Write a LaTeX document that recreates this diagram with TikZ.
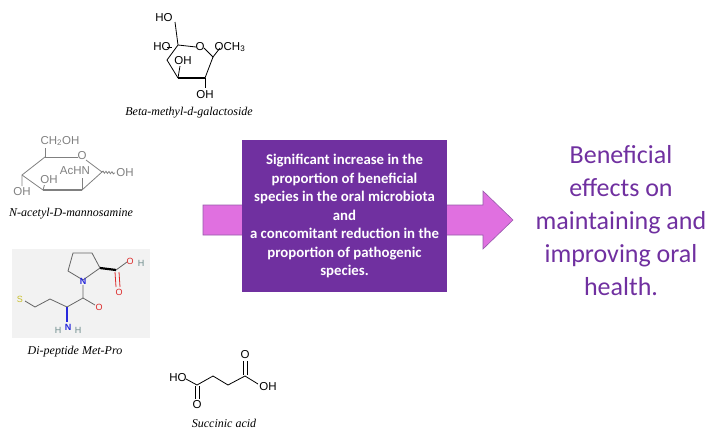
\documentclass[tikz,border=0pt]{standalone}
\usepackage{fontspec}
\setmainfont{Carlito}
\newfontfamily\chemfont{Liberation Sans}
\newfontfamily\capfont{Liberation Serif}
\usetikzlibrary{positioning, decorations.pathmorphing}
\definecolor{boxpurple}{RGB}{112,48,160}
\definecolor{arrowpink}{RGB}{224,112,224}
\definecolor{arrowedge}{RGB}{150,90,170}
\definecolor{panelgray}{RGB}{242,242,242}
\definecolor{atomred}{RGB}{220,40,40}
\definecolor{atomblue}{RGB}{40,40,220}
\definecolor{atomgray}{RGB}{110,140,140}
\definecolor{atomyellow}{RGB}{200,190,40}
\tikzset{
  atom/.style={font=\chemfont\fontsize{11.5}{11.5}\selectfont, inner sep=0.5pt, fill=white},
  caption/.style={font=\capfont\itshape\fontsize{12}{13}\selectfont},
  bond/.style={line width=0.8pt},
  wedge/.style={line width=2.2pt},
}
\begin{document}
\begin{tikzpicture}[x=1pt, y=-1pt]
  \useasboundingbox (0,0) rectangle (722,437);

  % arrow and central box
  \fill[arrowpink, draw=arrowedge, line width=0.6pt]
    (203,205) -- (483,205) -- (483,191) -- (513,220) -- (483,249) -- (483,235) -- (203,235) -- cycle;
  \node[fill=boxpurple, minimum width=205pt, minimum height=152pt, inner sep=0pt] (effect) at (344.5,216) {};
  \node[text=white, font=\bfseries\fontsize{14.8}{18.5}\selectfont, align=center] (effecttext) at (effect.center)
    {Significant increase in the\\proportion of beneficial\\species in the oral microbiota\\and\\a concomitant reduction in the\\proportion of pathogenic\\species.};

  \node[text=boxpurple, font=\fontsize{26}{33}\selectfont, align=center] (outcome) at (621,221)
    {Beneficial\\effects on\\maintaining and\\improving oral\\health.};

  % beta-methyl-d-galactoside
  \draw[bond] (175,22) -- (178,45) -- (167,60);
  \draw[bond] (178,45) -- (196,47);
  \draw[bond] (204,48) -- (213,57) -- (220,48);
  \draw[bond] (167,60) -- (178,78);
  \draw[wedge] (178,78) -- (205,78);
  \draw[bond] (205,78) -- (213,57);
  \draw[bond] (205,78) -- (205,88);
  \draw[bond] (178,78) -- (180,66);
  \draw[bond] (167,47) -- (172,47);
  \node[atom, fill=none] (galho1) at (164,18) {HO};
  \node[atom, fill=none] (galho2) at (162,47) {HO};
  \node[atom, fill=none] (galo) at (200,47) {O};
  \node[atom, fill=none, anchor=west] (galme) at (214,47) {OCH\textsubscript{3}};
  \node[atom] (galoh1) at (183,61) {OH};
  \node[atom, fill=none] (galoh2) at (205,95) {OH};
  \node[caption] (galcap) at (189,113) {Beta-methyl-d-galactoside};

  % N-acetyl-D-mannosamine
  \draw[bond, gray] (45,148) -- (45,157) -- (78,157);
  \draw[bond, gray] (86,160) -- (102,172);
  \draw[bond, gray, decorate, decoration={snake, amplitude=1pt, segment length=3pt}] (102,172) -- (115,173);
  \draw[bond, gray] (45,157) -- (22,175) -- (22,186);
  \draw[bond, gray] (22,175) -- (43,190);
  \draw[wedge, gray] (43,190) -- (82,190);
  \draw[bond, gray] (82,190) -- (102,172);
  \draw[bond, gray] (82,190) -- (82,178);
  \draw[bond, gray] (43,190) -- (45,183);
  \node[atom, fill=none, text=gray] (manch) at (60,141) {CH\textsubscript{2}OH};
  \node[atom, fill=none, text=gray] (mano) at (82,156) {O};
  \node[atom, text=gray] (manac) at (75,171) {AcHN};
  \node[atom, text=gray] (manoh1) at (49,180) {OH};
  \node[atom, fill=none, text=gray] (manoh2) at (125,173) {OH};
  \node[atom, fill=none, text=gray] (manoh3) at (22,192) {OH};
  \node[caption] (mancap) at (71,214) {N-acetyl-D-mannosamine};

  % di-peptide Met-Pro
  \fill[panelgray] (12,249) rectangle (150,338);
  \draw[bond, gray!80!black] (73,253) -- (92,253) -- (100,268) -- (83,280) -- (68,271) -- cycle;
  \draw[wedge, black] (100,268) -- (116,270);
  \draw[bond, gray!80!black] (116,270) -- (127,262);
  \draw[bond, atomred] (115,272) -- (116,287) (119,272) -- (120,287);
  \draw[bond, gray!80!black] (83,285) -- (83,298) -- (95,305);
  \draw[bond, gray!80!black] (83,298) -- (67,307) -- (50,299) -- (35,307) -- (25,301);
  \draw[wedge, atomblue] (67,307) -- (67,322);
  \node[atom, fill=none, text=atomblue, font=\chemfont\fontsize{9}{9}\selectfont\bfseries] (proN) at (83,281) {N};
  \node[atom, fill=none, text=atomred, font=\chemfont\fontsize{9}{9}\selectfont] (proO1) at (130,261) {O};
  \node[atom, fill=none, text=atomgray, font=\chemfont\fontsize{9}{9}\selectfont] (proH) at (141,263) {H};
  \node[atom, fill=none, text=atomred, font=\chemfont\fontsize{9}{9}\selectfont] (proO2) at (119,292) {O};
  \node[atom, fill=none, text=atomred, font=\chemfont\fontsize{9}{9}\selectfont] (metO) at (99,307) {O};
  \node[atom, fill=none, text=atomyellow, font=\chemfont\fontsize{9}{9}\selectfont] (metS) at (20,299) {S};
  \node[atom, fill=none, text=atomblue, font=\chemfont\fontsize{9}{9}\selectfont\bfseries] (metN) at (68,327) {N};
  \node[atom, fill=none, text=atomgray, font=\chemfont\fontsize{9}{9}\selectfont] (metH1) at (58,330) {H};
  \node[atom, fill=none, text=atomgray, font=\chemfont\fontsize{9}{9}\selectfont] (metH2) at (78,330) {H};
  \node[caption] (metcap) at (75,352) {Di-peptide Met-Pro};

  % succinic acid
  \draw[bond] (186,379) -- (197,385) -- (213,376) -- (228,385) -- (245,376) -- (258,384);
  \draw[bond] (195,386) -- (195,399) (199,386) -- (199,399);
  \draw[bond] (243,375) -- (243,361) (247,375) -- (247,361);
  \node[atom, fill=none] (sucho) at (178,378) {HO};
  \node[atom, fill=none] (sucoh) at (268,387) {OH};
  \node[atom, fill=none] (suco1) at (197,405) {O};
  \node[atom, fill=none] (suco2) at (245,355) {O};
  \node[caption] (succap) at (224,423) {Succinic acid};
\end{tikzpicture}
\end{document}
